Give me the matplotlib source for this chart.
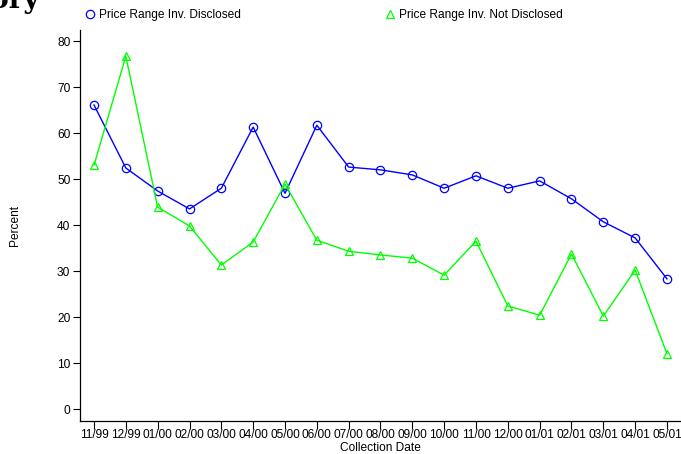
import numpy as np
import matplotlib.pyplot as plt

plt.rcParams['font.family'] = ['Liberation Sans', 'DejaVu Sans']

dates = ["11/99", "12/99", "01/00", "02/00", "03/00", "04/00", "05/00", "06/00",
         "07/00", "08/00", "09/00", "10/00", "11/00", "12/00", "01/01", "02/01",
         "03/01", "04/01", "05/01"]
disclosed = [66.1, 52.4, 47.4, 43.5, 48.0, 61.3, 46.9, 61.7, 52.6, 52.0, 50.9,
             48.0, 50.7, 48.0, 49.6, 45.7, 40.7, 37.2, 28.3]
not_disclosed = [53.0, 76.7, 43.9, 39.8, 31.3, 36.3, 48.9, 36.7, 34.3, 33.5, 32.8,
                 29.1, 36.5, 22.4, 20.4, 33.7, 20.2, 30.2, 12.0]

W, H = 681, 454
FS = 8.6
fig = plt.figure(figsize=(W/100, H/100), dpi=100)
ax = fig.add_axes([80/W, (H-421)/H, 601/W, 391/H])

x = np.arange(len(dates))
l1, = ax.plot(x, disclosed, color='#0000ff', lw=1, marker='o', ms=6,
              mfc='none', mec='#0000ff', mew=0.9)
l2, = ax.plot(x, not_disclosed, color='#00ff00', lw=1, marker='^', ms=6,
              mfc='none', mec='#00ff00', mew=0.9)

ax.set_xlim(-0.44, 18.44)
ax.set_ylim(-2.6, 82.4)
ax.set_xticks(x)
ax.set_xticklabels(dates, fontsize=FS)
ax.set_yticks(np.arange(0, 81, 10))
ax.tick_params(axis='y', labelsize=FS, length=5, width=0.8, pad=2)
ax.tick_params(axis='x', length=6, width=0.8, pad=0)
for s in ['top', 'right']:
    ax.spines[s].set_visible(False)
for s in ['left', 'bottom']:
    ax.spines[s].set_linewidth(0.9)

fig.text(380/W, 1-448/H, "Collection Date", fontsize=FS, ha='center', va='center')
fig.text(15/W, 1-225/H, "Percent", fontsize=FS, rotation=90, ha='center', va='center')

fig.legend([l1], ["Price Range Inv. Disclosed"], loc='center left',
           bbox_to_anchor=(80/W, 1-15/H), frameon=False, fontsize=FS,
           handlelength=0.8, handletextpad=0.4, borderaxespad=0)
fig.legend([l2], ["Price Range Inv. Not Disclosed"], loc='center left',
           bbox_to_anchor=(380/W, 1-15/H), frameon=False, fontsize=FS,
           handlelength=0.8, handletextpad=0.4, borderaxespad=0)
for lg in fig.legends:
    for h in lg.legend_handles:
        h.set_linestyle('none')

fig.text(40/W, 1-8/H, "History", fontsize=20, family='serif', weight='bold',
         ha='right', va='baseline')

fig.savefig("out.png", dpi=100)
